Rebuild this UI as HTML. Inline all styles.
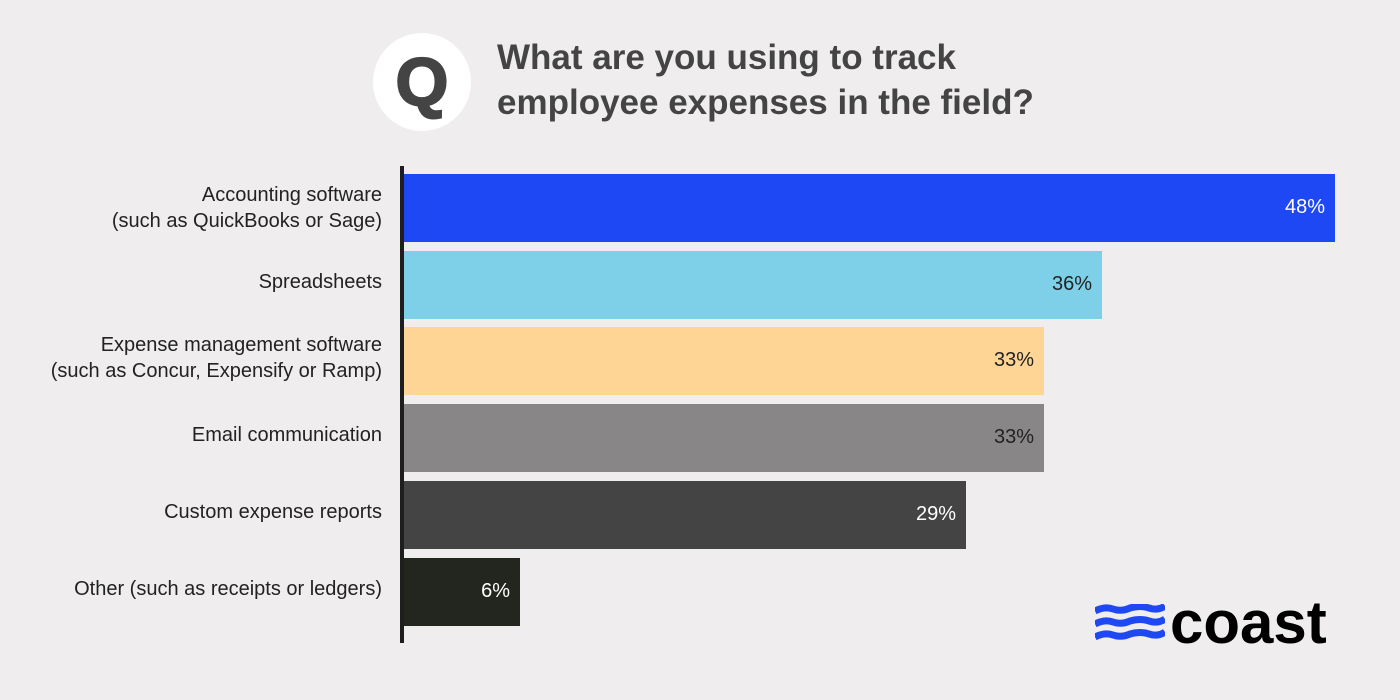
<!DOCTYPE html>
<html><head><meta charset="utf-8"><style>
body{margin:0;width:1400px;height:700px;background:#efedee;font-family:"Liberation Sans",sans-serif;position:relative;overflow:hidden}
.a{position:absolute}
.bar{position:absolute;left:404px;height:68px}
.v{position:absolute;right:10px;top:22px;font-size:20px}
.l{position:absolute;right:1018px;text-align:right;font-size:20px;color:#222;line-height:26px}
</style></head><body>
<div class="a" style="left:373px;top:33px;width:98px;height:98px;border-radius:50%;background:#fff"></div>
<div class="a" style="left:373px;top:42px;width:98px;text-align:center;font-size:68px;font-weight:900;color:#444;line-height:80px;-webkit-text-stroke:2px #444">Q</div>
<div class="a" style="left:497px;top:35px;font-size:35px;font-weight:bold;color:#444;line-height:45px">What are you using to track<br>employee expenses in the field?</div>
<div class="a" style="left:400px;top:166px;width:4px;height:477px;background:#1e1e1e"></div>
<div class="bar" style="top:174px;width:931px;background:#1f48f5"><span class="v" style="color:#fff">48%</span></div>
<div class="bar" style="top:251px;width:698px;background:#7ecfe8"><span class="v" style="color:#222">36%</span></div>
<div class="bar" style="top:327px;width:640px;background:#ffd596"><span class="v" style="color:#222">33%</span></div>
<div class="bar" style="top:404px;width:640px;background:#888686"><span class="v" style="color:#222">33%</span></div>
<div class="bar" style="top:481px;width:562px;background:#444444"><span class="v" style="color:#fff">29%</span></div>
<div class="bar" style="top:558px;width:116px;background:#22261f"><span class="v" style="color:#fff">6%</span></div>
<div class="l" style="top:182px">Accounting software<br>(such as QuickBooks or Sage)</div>
<div class="l" style="top:269px">Spreadsheets</div>
<div class="l" style="top:332px">Expense management software<br>(such as Concur, Expensify or Ramp)</div>
<div class="l" style="top:422px">Email communication</div>
<div class="l" style="top:499px">Custom expense reports</div>
<div class="l" style="top:576px">Other (such as receipts or ledgers)</div>
<svg class="a" style="left:1095px;top:604px" width="70" height="42" viewBox="0 0 70 42">
<g fill="none" stroke="#1f48f5" stroke-width="7">
<path d="M0 7 Q10 2 18 5 T35 4 Q45 1 54 4 T70 2"/>
<path d="M0 20 Q10 15 18 18 T35 17 Q45 14 54 17 T70 15"/>
<path d="M0 33 Q10 28 18 31 T35 30 Q45 27 54 30 T70 28"/>
</g></svg>
<div class="a" style="left:1170px;top:588px;font-size:60px;font-weight:bold;color:#000;letter-spacing:0px;line-height:70px">coast</div>
</body></html>
